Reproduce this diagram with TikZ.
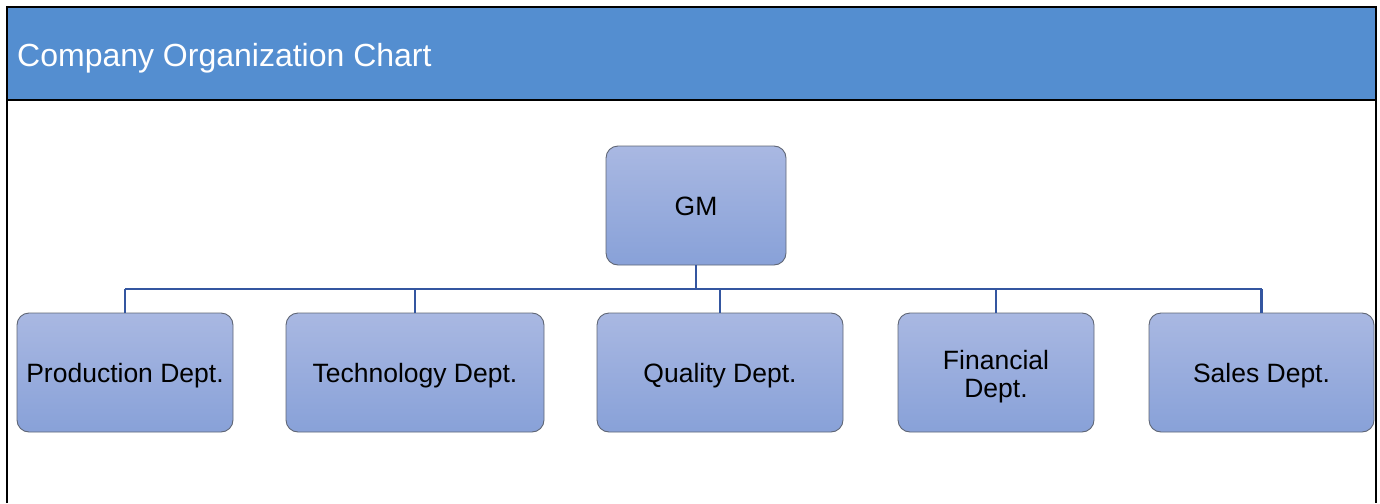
\documentclass[tikz,border=0pt]{standalone}
\usepackage{fontspec}
\setmainfont{Liberation Sans}
\definecolor{hdr}{HTML}{548ED0}
\definecolor{boxtop}{HTML}{A9B8E2}
\definecolor{boxbot}{HTML}{88A1D8}
\definecolor{boxline}{HTML}{5F6675}
\definecolor{conncol}{HTML}{3456A0}
\begin{document}
\begin{tikzpicture}[x=1pt,y=-1pt,
  orgbox/.style={rectangle, rounded corners=12pt, draw=boxline, line width=0.9pt,
    top color=boxtop, bottom color=boxbot, minimum height=119pt, inner sep=0pt,
    text height=25pt, text depth=5.5pt,
    align=center, font=\fontsize{26.5}{27.5}\selectfont, text=black},
  conn/.style={draw=conncol, line width=2.8pt},
  frame/.style={draw=black, line width=2pt}]
\useasboundingbox (0,0) rectangle (1380,503);
\fill[hdr] (7,7) rectangle (1376,100);
\node[anchor=west, text=white, font=\fontsize{32}{34}\selectfont, inner sep=0pt] (title) at (17,58) {Company Organization Chart};

\node[orgbox, minimum width=180pt] (gm) at (696,205.5) {GM};
\node[orgbox, minimum width=216pt] (prod) at (125,372.5) {Production Dept.};
\node[orgbox, minimum width=258pt] (tech) at (415,372.5) {Technology Dept.};
\node[orgbox, minimum width=246pt] (qual) at (720,372.5) {Quality Dept.};
\node[orgbox, minimum width=196pt, text height=55pt] (fin) at (996,372.5) {Financial\\Dept.};
\node[orgbox, minimum width=225pt] (sales) at (1261.5,372.5) {Sales Dept.};

\coordinate (bus) at (0,289);
\draw[conn] (gm.south) -- (gm.south |- bus);
\draw[conn] (prod.north |- bus) -- (sales.north |- bus);
\foreach \n in {prod,tech,qual,fin,sales}{
  \draw[conn] (\n.north |- bus) -- (\n.north);
}

\draw[black, line width=1.5pt] (7,100) -- (1376,100);
\draw[frame] (7,503) -- (7,7) -- (1376,7) -- (1376,503);
\end{tikzpicture}
\end{document}
